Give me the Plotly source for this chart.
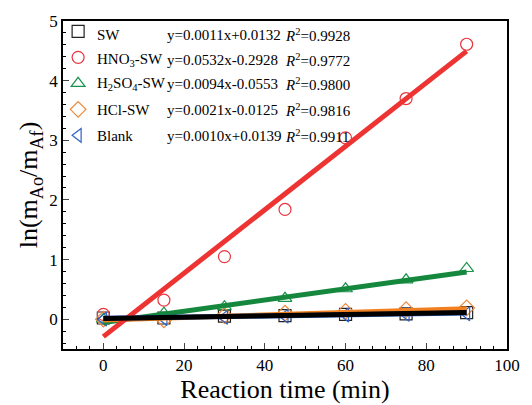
import plotly.graph_objects as go

time = [0, 15, 30, 45, 60, 75, 90]
sw = [0.02, 0.02, 0.05, 0.06, 0.08, 0.09, 0.11]
hno3 = [0.08, 0.32, 1.05, 1.84, 3.04, 3.70, 4.61]
h2so4 = [0.00, 0.10, 0.21, 0.35, 0.51, 0.66, 0.85]
hcl = [0.00, -0.01, 0.06, 0.10, 0.13, 0.16, 0.19]
blank = [0.00, 0.01, 0.03, 0.05, 0.07, 0.08, 0.09]

names = ["SW", "HNO<sub>3</sub>-SW", "H<sub>2</sub>SO<sub>4</sub>-SW", "HCl-SW", "Blank"]
slopes = [0.0011, 0.0532, 0.0094, 0.0021, 0.0010]
intercepts = [0.0132, -0.2928, -0.0553, -0.0125, 0.0139]
equations = ["y=0.0011x+0.0132", "y=0.0532x-0.2928", "y=0.0094x-0.0553",
             "y=0.0021x-0.0125", "y=0.0010x+0.0139"]
r2_labels = ["0.9928", "0.9772", "0.9800", "0.9816", "0.9911"]

colors = ["#222222", "#e8343c", "#17934a", "#f0883a", "#2f62c4"]
symbols = ["square-open", "circle-open", "triangle-up-open", "diamond-open", "triangle-left-open"]
series = [sw, hno3, h2so4, hcl, blank]

FONT = "Liberation Serif, Times New Roman, Tinos, serif"

fig = go.Figure()
for i, ys in enumerate(series):
    fig.add_trace(go.Scatter(
        x=time, y=ys, mode="markers", name=" ",
        marker=dict(symbol=symbols[i], size=12, color=colors[i], line=dict(width=1.2, color=colors[i])),
        legendgroup=str(i), showlegend=True))

fit_x = [time[0], time[-1]]
line_colors = ["#000000", "#ee3333", "#15883e", "#f28020", "#2f62c4"]
for i in [2, 3, 4, 1, 0]:
    fy = [slopes[i] * xv + intercepts[i] for xv in fit_x]
    fig.add_trace(go.Scatter(x=fit_x, y=fy, mode="lines", showlegend=False,
                             line=dict(color=line_colors[i], width=5)))

row_y = [32, 57, 82, 108, 134]
for i in range(5):
    yp = 1 - (row_y[i] - 18) / 332
    fig.add_annotation(xref="paper", yref="paper", x=(96 - 63) / 452, y=yp,
                       text=names[i], showarrow=False, xanchor="left", yanchor="middle",
                       font=dict(family=FONT, size=15, color="black"))
    fig.add_annotation(xref="paper", yref="paper", x=(167 - 63) / 452, y=yp,
                       text=equations[i], showarrow=False, xanchor="left", yanchor="middle",
                       font=dict(family=FONT, size=15, color="black"))
    fig.add_annotation(xref="paper", yref="paper", x=(287 - 63) / 452, y=yp,
                       text="<i>R</i><sup>2</sup>=" + r2_labels[i], showarrow=False,
                       xanchor="left", yanchor="middle",
                       font=dict(family=FONT, size=15, color="black"))

fig.update_layout(
    width=532, height=405,
    margin=dict(l=63, r=17, t=18, b=55),
    paper_bgcolor="white", plot_bgcolor="white",
    font=dict(family=FONT, color="black"),
    showlegend=True,
    legend=dict(x=-0.011, y=1.018, xanchor="left", yanchor="top",
                bgcolor="rgba(0,0,0,0)", font=dict(family=FONT, size=15),
                tracegroupgap=3.5, itemwidth=30),
    xaxis=dict(range=[-10, 100], dtick=20, tick0=0, ticks="inside", ticklen=6,
               showline=True, linecolor="black", linewidth=1.5, mirror=True,
               showgrid=False, zeroline=False,
               tickfont=dict(size=17, family=FONT),
               title=dict(text="Reaction time (min)", font=dict(size=26, family=FONT), standoff=0),
               minor=dict(dtick=10/3, tick0=0, ticks="inside", ticklen=3, tickcolor="black")),
    yaxis=dict(range=[-0.5, 5], dtick=1, tick0=0, ticks="inside", ticklen=6,
               showline=True, linecolor="black", linewidth=1.5, mirror=True,
               showgrid=False, zeroline=False,
               tickfont=dict(size=17, family=FONT),
               title=dict(text="ln(m<sub>Ao</sub>/m<sub>Af</sub>)", font=dict(size=26, family=FONT), standoff=4),
               minor=dict(dtick=0.2, tick0=0, ticks="inside", ticklen=3, tickcolor="black")),
)

fig.write_html("out.html")
